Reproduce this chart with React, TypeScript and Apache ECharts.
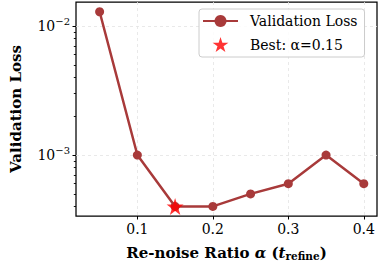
import React, { useEffect, useRef } from 'react';
import * as echarts from 'echarts';

const ratios = [0.05, 0.1, 0.15, 0.2, 0.25, 0.3, 0.35, 0.4];
const losses = [0.0129, 0.001, 0.0004, 0.0004, 0.0005, 0.0006, 0.001, 0.0006];
const bestPoint = [0.15, 0.0004];
const xTicks = [0.1, 0.2, 0.3, 0.4];
const yMajorTicks = [0.001, 0.01];
const yMinorTicks = [0.0004, 0.0005, 0.0006, 0.0007, 0.0008, 0.0009, 0.002, 0.003, 0.004, 0.005, 0.006, 0.007, 0.008, 0.009];
const seriesName = 'Validation Loss';
const bestName = 'Best: α=0.15';

const FONT = 'DejaVu Serif';
const LINE_COLOR = '#a83a3a';

function starPath(): string {
  let d = '';
  for (let i = 0; i < 10; i++) {
    const a = (-90 + i * 36) * Math.PI / 180;
    const r = i % 2 ? 0.382 : 1;
    d += (i ? 'L' : 'M') + (r * Math.cos(a)).toFixed(4) + ' ' + (r * Math.sin(a)).toFixed(4);
  }
  return 'path://' + d + 'Z';
}

export default function App() {
  const ref = useRef<HTMLDivElement>(null);
  useEffect(() => {
    if (!ref.current) return;
    const chart = echarts.init(ref.current, null, { renderer: 'svg' });
    const star = starPath();
    const yMin = 0.000337;
    const yMax = 0.01535;
    chart.setOption({
      animation: false,
      backgroundColor: '#ffffff',
      textStyle: { fontFamily: FONT },
      grid: {
        left: 71, top: 2, right: 4, bottom: 51,
        show: true, borderColor: '#000000', borderWidth: 1.25, backgroundColor: 'transparent',
      },
      legend: {
        orient: 'vertical',
        left: 199,
        top: 9,
        padding: [5, 7, 5, 3],
        itemWidth: 35,
        itemHeight: 15,
        itemGap: 9,
        borderColor: '#cccccc',
        borderWidth: 1,
        borderRadius: 3,
        backgroundColor: 'rgba(255,255,255,0.85)',
        textStyle: { fontFamily: FONT, fontSize: 14, color: '#000', padding: [0, 0, 0, 7] },
        data: [
          { name: seriesName },
          { name: bestName },
        ],
      },
      xAxis: {
        type: 'value',
        min: 0.0187,
        max: 0.4175,
        name: '{b|Re-noise Ratio }{i|α}{b| (}{i|t}{sub|refine}{b|)}',
        nameLocation: 'middle',
        nameGap: 28,
        nameTextStyle: {
          rich: {
            b: { fontFamily: FONT, fontWeight: 'bold', fontSize: 15, color: '#000' },
            i: { fontFamily: FONT, fontStyle: 'italic', fontWeight: 'bold', fontSize: 15, color: '#000' },
            sub: { fontFamily: FONT, fontWeight: 'bold', fontSize: 10.5, color: '#000', verticalAlign: 'bottom', padding: [6, 0, 0, 0] },
          },
        },
        axisLine: { show: false },
        axisTick: { show: true, length: 3.5, inside: false, customValues: xTicks, lineStyle: { color: '#000', width: 1 } },
        axisLabel: { customValues: xTicks, fontFamily: FONT, fontSize: 14, color: '#000', margin: 6, formatter: (v: number) => String(Math.round(v * 10) / 10) },
        splitLine: { show: true, lineStyle: { color: '#e3e3e3', type: [3, 3], width: 0.8 } },
      },
      yAxis: [
        {
          type: 'log',
          logBase: 10,
          min: yMin,
          max: yMax,
          name: 'Validation Loss',
          nameLocation: 'middle',
          nameGap: 53,
          nameTextStyle: { fontFamily: FONT, fontWeight: 'bold', fontSize: 15, color: '#000' },
          axisLine: { show: false },
          axisTick: { show: true, length: 2.2, customValues: yMinorTicks.concat(yMajorTicks), lineStyle: { color: '#000', width: 0.9 } },
          axisLabel: {
            customValues: yMajorTicks,
            margin: 6,
            formatter: (v: number) => '{b|10}{s|−' + Math.abs(Math.round(Math.log10(v))) + '}',
            rich: {
              b: { fontFamily: FONT, fontSize: 14, color: '#000' },
              s: { fontFamily: FONT, fontSize: 10, color: '#000', verticalAlign: 'top', padding: [0, 0, 9, 0] },
            },
          },
          splitLine: { show: false },
        },
        {
          type: 'log',
          logBase: 10,
          min: yMin,
          max: yMax,
          position: 'left',
          axisLine: { show: false },
          axisTick: { show: true, length: 3.5, customValues: yMajorTicks, lineStyle: { color: '#000', width: 1 } },
          axisLabel: { show: false },
          splitLine: { show: true, lineStyle: { color: '#e3e3e3', type: [3, 3], width: 0.8 } },
        },
      ],
      series: [
        {
          name: seriesName,
          type: 'line',
          data: ratios.map((r, i) => [r, losses[i]]),
          symbol: 'circle',
          symbolSize: 9,
          itemStyle: { color: LINE_COLOR },
          lineStyle: { color: LINE_COLOR, width: 2.5 },
          z: 2,
        },
        {
          name: bestName,
          type: 'scatter',
          data: [bestPoint],
          symbol: star,
          symbolSize: 17,
          itemStyle: { color: '#ff0000' },
          z: 3,
        },
      ],
    });
    return () => chart.dispose();
  }, []);
  return <div ref={ref} style={{ position: 'absolute', left: 0, top: 0, width: 381, height: 267 }} />;
}
